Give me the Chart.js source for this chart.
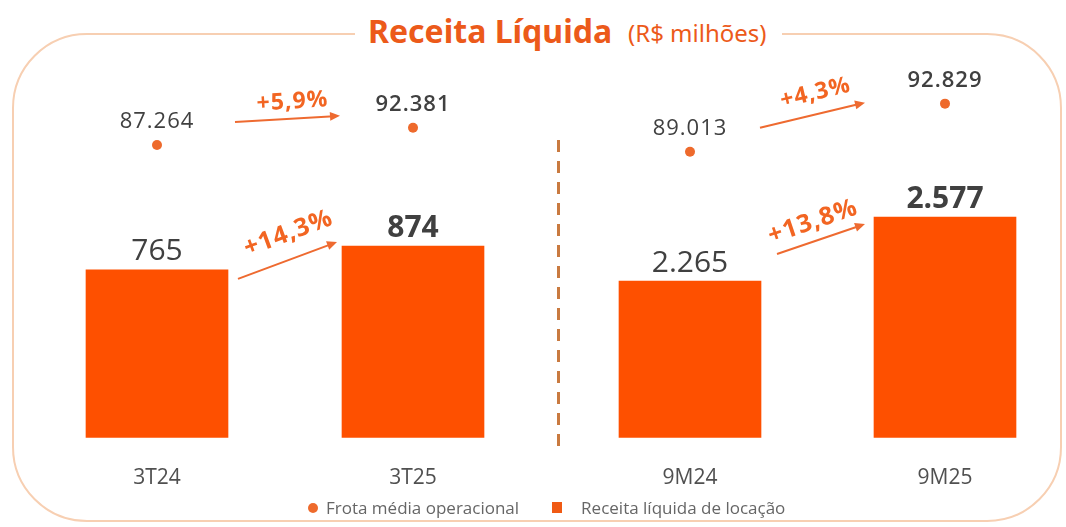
<!DOCTYPE html>
<html>
<head>
<meta charset="utf-8">
<script src="https://cdn.jsdelivr.net/npm/chart.js@4.4.1/dist/chart.umd.min.js"></script>
<style>
    html, body { margin: 0; padding: 0; background: #fff; }
    #wrap { position: relative; width: 1066px; height: 527px; overflow: hidden; font-family: "Open Sans", sans-serif; }
    #frame { position: absolute; left: 12px; top: 33px; width: 1046px; height: 485px; border: 2.5px solid #F7CFB2; border-radius: 75px; }
    #titleBg { position: absolute; left: 355px; top: 20px; width: 427px; height: 30px; background: #fff; }
    #title { position: absolute; left: 368px; top: 15px; line-height: 32px; white-space: nowrap; color: #EC5A1A;
        font-family: "Noto Sans", sans-serif; font-weight: bold; font-size: 32px; }
    #unit { position: absolute; left: 628px; top: 21px; line-height: 24px; white-space: nowrap; color: #EC5A1A;
        font-family: "Noto Sans", sans-serif; font-size: 24px; }
    #divider { position: absolute; left: 557px; top: 140px; width: 3px; height: 310px;
        background: repeating-linear-gradient(to bottom, #C97A40 0 12px, transparent 12px 21px); }
    canvas { position: absolute; top: 0; }
    #chartLeft { left: 0; }
    #chartRight { left: 540px; }
    #legend { position: absolute; left: 308px; top: 496px; display: flex; align-items: center; font-size: 17px; color: #666; }
    #legend .dot { width: 10px; height: 10px; border-radius: 50%; background: #EE6A2C; margin-right: 8px; }
    #legend .sq { width: 10px; height: 11px; background: #F05A14; margin-left: 33px; margin-right: 19px; }
</style>
</head>
<body>
<div id="wrap">
    <div id="frame"></div>
    <div id="titleBg"></div>
    <div id="title">Receita Líquida</div>
    <div id="unit">(R$ milhões)</div>
    <div id="divider"></div>
    <canvas id="chartLeft" width="560" height="527"></canvas>
    <canvas id="chartRight" width="540" height="527"></canvas>
    <div id="legend">
        <span class="dot"></span><span id="legFrota"></span>
        <span class="sq"></span><span id="legReceita"></span>
    </div>
</div>
<script>
// Data
const seriesNames = ['Frota média operacional', 'Receita líquida de locação'];
const leftLabels = ['3T24', '3T25'];
const rightLabels = ['9M24', '9M25'];
const receitaLeft = [765, 874];
const receitaRight = [2265, 2577];
const frotaLeft = [87264, 92381];
const frotaRight = [89013, 92829];
const receitaGrowth = ['+14,3%', '+13,8%'];
const frotaGrowth = ['+5,9%', '+4,3%'];

const ORANGE = '#FE5000';
const DOT = '#EE6A2C';
const TEXT = '#404040';

document.getElementById('legFrota').textContent = seriesNames[0];
document.getElementById('legReceita').textContent = seriesNames[1];

function fmt(v) {
    return String(v).replace(/\B(?=(\d{3})+(?!\d))/g, '.');
}

// Value labels above bars and dots
const valueLabels = {
    id: 'valueLabels',
    afterDatasetsDraw(chart) {
        const ctx = chart.ctx;
        ctx.save();
        ctx.fillStyle = TEXT;
        ctx.textAlign = 'center';
        ctx.textBaseline = 'bottom';
        chart.data.datasets.forEach((ds, di) => {
            const meta = chart.getDatasetMeta(di);
            meta.data.forEach((el, i) => {
                if (ds.type === 'bar') {
                    ctx.letterSpacing = '0px';
                    ctx.font = (i === 1 ? 'bold' : 'normal') + ' 30px "Open Sans"';
                    ctx.fillText(fmt(ds.data[i]), el.x, el.y - 3);
                } else {
                    ctx.letterSpacing = '1px';
                    ctx.font = (i === 1 ? '600' : 'normal') + ' 22px "Open Sans"';
                    ctx.fillText(fmt(ds.data[i]), el.x, el.y - 12);
                }
            });
        });
        ctx.restore();
    }
};

// Growth arrows between the two periods
const growthArrows = {
    id: 'growthArrows',
    afterDatasetsDraw(chart, args, opts) {
        const ctx = chart.ctx;
        (opts.items || []).forEach(it => {
            const pts = chart.getDatasetMeta(it.dataset).data;
            const x0 = pts[0].x + it.dx0, y0 = pts[0].y + it.dy0;
            const x1 = pts[1].x - it.dx1, y1 = pts[1].y + it.dy1;
            const ang = Math.atan2(y1 - y0, x1 - x0);
            ctx.save();
            ctx.strokeStyle = '#EE6A30';
            ctx.fillStyle = '#EE6A30';
            ctx.lineWidth = 2;
            ctx.beginPath();
            ctx.moveTo(x0, y0);
            ctx.lineTo(x1 - 6 * Math.cos(ang), y1 - 6 * Math.sin(ang));
            ctx.stroke();
            ctx.translate(x1, y1);
            ctx.rotate(ang);
            ctx.beginPath();
            ctx.moveTo(0, 0);
            ctx.lineTo(-10, -4.5);
            ctx.lineTo(-10, 4.5);
            ctx.closePath();
            ctx.fill();
            ctx.restore();

            ctx.save();
            ctx.translate((x0 + x1) / 2 + it.lx, (y0 + y1) / 2 + it.ly);
            ctx.rotate(ang);
            ctx.fillStyle = '#F26522';
            ctx.font = 'bold ' + it.size + 'px "Open Sans"';
            ctx.letterSpacing = '1px';
            ctx.textAlign = 'center';
            ctx.textBaseline = 'middle';
            ctx.fillText(it.text, 0, 0);
            ctx.restore();
        });
    }
};

function makeChart(id, labels, receita, frota, barScale, dotScale, padLeft, padRight, arrows) {
    return new Chart(document.getElementById(id), {
        data: {
            labels: labels,
            datasets: [
                {
                    type: 'bar',
                    label: seriesNames[1],
                    data: receita,
                    backgroundColor: ORANGE,
                    barThickness: 142,
                    yAxisID: 'yBar',
                    order: 2
                },
                {
                    type: 'line',
                    label: seriesNames[0],
                    data: frota,
                    showLine: false,
                    pointRadius: 5,
                    pointBackgroundColor: DOT,
                    pointBorderWidth: 0,
                    yAxisID: 'yDot',
                    order: 1
                }
            ]
        },
        options: {
            responsive: false,
            animation: false,
            layout: { padding: { left: padLeft, right: padRight, top: 70, bottom: 8 } },
            plugins: {
                legend: { display: false },
                tooltip: { enabled: false },
                growthArrows: { items: arrows }
            },
            scales: {
                x: {
                    grid: { display: false, drawTicks: false },
                    border: { display: false },
                    ticks: { color: '#505050', padding: 28, font: { size: 21, family: 'Open Sans' } }
                },
                yBar: { display: false, min: barScale[0], max: barScale[1] },
                yDot: { display: false, min: dotScale[0], max: dotScale[1] }
            }
        },
        plugins: [valueLabels, growthArrows]
    });
}

makeChart('chartLeft', leftLabels, receitaLeft, frotaLeft, [0, 1676], [0, 109600], 29, 19, [
    { dataset: 0, dx0: 81, dy0: 9, dx1: 76, dy1: -4, text: receitaGrowth[0], lx: 1, ly: -27, size: 25 },
    { dataset: 1, dx0: 78, dy0: -23, dx1: 73, dy1: -12, text: frotaGrowth[0], lx: 5, ly: -17, size: 23 }
]);

makeChart('chartRight', rightLabels, receitaRight, frotaRight, [1500, 3294], [66300, 95500], 22.5, 7.5, [
    { dataset: 0, dx0: 87, dy0: -27, dx1: 80, dy1: 7, text: receitaGrowth[1], lx: -8, ly: -17, size: 25 },
    { dataset: 1, dx0: 70, dy0: -24, dx1: 80, dy1: -1, text: frotaGrowth[1], lx: 3, ly: -22, size: 23 }
]);
</script>
</body>
</html>
